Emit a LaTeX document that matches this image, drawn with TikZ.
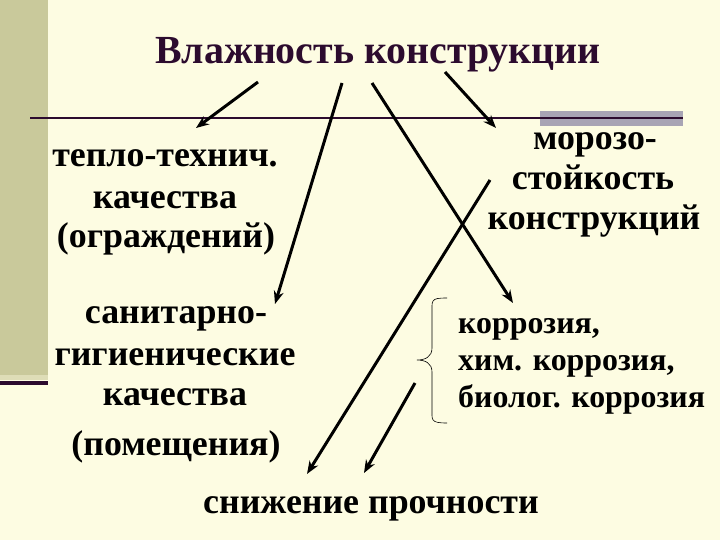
\documentclass[tikz,border=0pt]{standalone}
\usepackage{fontspec}
\setmainfont{Liberation Serif}
\newfontfamily\heavy{Liberation Serif Bold}
\usetikzlibrary{arrows.meta}
\definecolor{bg}{HTML}{FDFCE2}
\definecolor{barc}{HTML}{C9C99B}
\definecolor{plum}{HTML}{2C0B2E}
\definecolor{grayb}{HTML}{A8A4B4}
\tikzset{
  txt/.style={font=\heavy\fontsize{36}{40}\selectfont, anchor=base, inner sep=0pt},
  ktxt/.style={font=\heavy\fontsize{32}{37}\selectfont, anchor=base west, inner sep=0pt},
  arr/.style={line width=3pt, -{Stealth[length=13pt,width=10pt]}},
}
\begin{document}
\begin{tikzpicture}[x=1bp,y=-1bp]
\useasboundingbox (0,0) rectangle (720,540);
\fill[bg] (0,0) rectangle (720,540);
% left bar
\fill[barc] (0,0) rectangle (48,375);
\fill[barc!60!bg] (0,375) rectangle (48,380);
\fill[plum] (0,381) rectangle (48,385);
% horizontal rule
\fill[grayb] (540,111) rectangle (683,126);
\draw[plum, line width=2.5pt] (30,118) -- (683,118);
% title
\node[font=\heavy\fontsize{40}{44}\selectfont, text=plum, anchor=base, inner sep=0pt] (title) at (378,64) {Влажность конструкции};
% left upper block
\node[txt] (t1) at (165,167) {тепло-технич.};
\node[txt] (t2) at (165,209) {качества};
\node[txt] (t3) at (166,248) {(ограждений)};
% left lower block
\node[txt] (s1t) at (176,323) {санитарно-};
\node[txt] (s2t) at (175,365) {гигиенические};
\node[txt] (s3t) at (175,405) {качества};
\node[txt] (s4t) at (176,455) {(помещения)};
% right upper block
\node[txt] (m1) at (595,150) {морозо-};
\node[txt] (m2) at (593,190) {стойкость};
\node[txt] (m3) at (594,230) {конструкций};
% corrosion block
\node[ktxt] (k1) at (458,333) {коррозия,};
\node[ktxt] (k2) at (458,370) {хим. коррозия,};
\node[ktxt] (k3) at (458,407) {биолог. коррозия};
% bottom
\node[txt] (snizh) at (371,513) {снижение прочности};
% brace
\draw[line width=0.6pt] (447,298) .. controls (430,298) and (432,300) .. (432,315)
  -- (432,348) .. controls (432,357) and (425,360) .. (417,360)
  .. controls (425,360) and (432,363) .. (432,372)
  -- (432,408) .. controls (432,420) and (430,423) .. (447,423);
% connectors
\coordinate (a1) at (258,82);  \coordinate (b1) at (196,128);
\coordinate (a2) at (342,83);  \coordinate (b2) at (275,304);
\coordinate (a3) at (372,83);  \coordinate (b3) at (513,303);
\coordinate (a4) at (445,72);  \coordinate (b4) at (496,128);
\coordinate (a5) at (490,180); \coordinate (b5) at (307,474);
\coordinate (a6) at (415,383); \coordinate (b6) at (364,473);
\draw[arr] (a1) -- (b1);
\draw[arr] (a2) -- (b2);
\draw[arr] (a3) -- (b3);
\draw[arr] (a4) -- (b4);
\draw[arr] (a5) -- (b5);
\draw[arr] (a6) -- (b6);
\end{tikzpicture}
\end{document}
